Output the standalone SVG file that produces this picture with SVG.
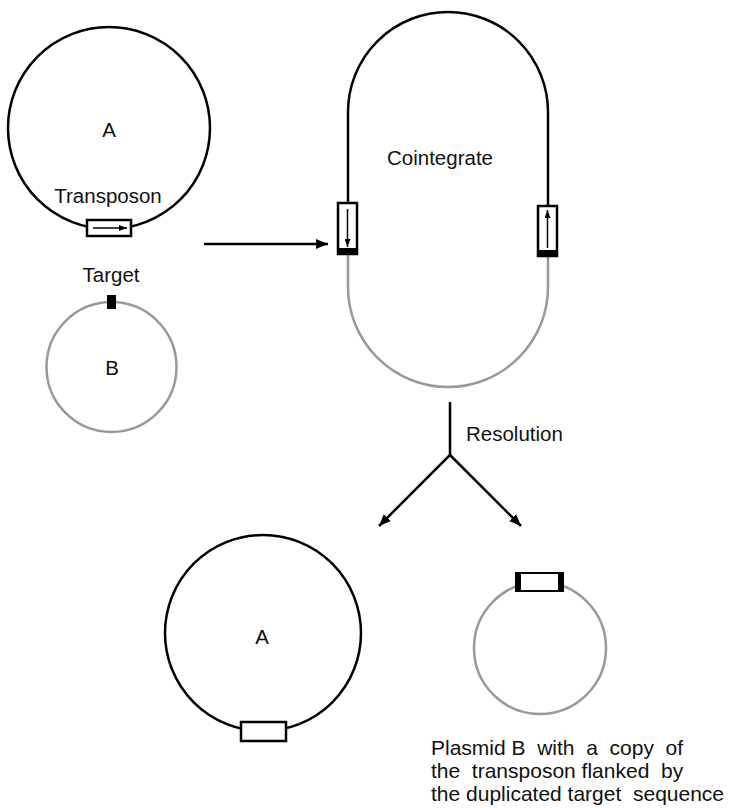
<svg xmlns="http://www.w3.org/2000/svg" width="732" height="808" viewBox="0 0 732 808">
  <style>
    .blk { fill: none; stroke: #000; stroke-width: 2.5; }
    .gry { fill: none; stroke: #999; stroke-width: 2.5; }
    .lbl { font-family: "Liberation Sans", Arial, sans-serif; font-size: 20.5px; fill: #111; }
    .note { font-family: "Liberation Sans", Arial, sans-serif; font-size: 21px; fill: #111; }
    .tn  { fill: #fff; stroke: #000; stroke-width: 2.5; }
    .thin { stroke: #000; stroke-width: 1.5; fill: none; }
  </style>
  <defs>
    <marker id="head" viewBox="0 0 12 10" refX="12" refY="5" markerWidth="12" markerHeight="10" markerUnits="userSpaceOnUse" orient="auto">
      <path d="M0,0 L12,5 L0,10 Z" fill="#000"/>
    </marker>
    <marker id="smallhead" viewBox="0 0 8 6" refX="8" refY="3" markerWidth="8" markerHeight="6" markerUnits="userSpaceOnUse" orient="auto">
      <path d="M0,0 L8,3 L0,6 Z" fill="#000"/>
    </marker>
  </defs>

  <!-- donor plasmid A carrying the transposon -->
  <g id="plasmidA">
    <circle class="blk" cx="109" cy="128" r="101"/>
    <text class="lbl" x="109" y="137" text-anchor="middle">A</text>
    <text class="lbl" x="108" y="203" text-anchor="middle">Transposon</text>
    <rect class="tn" x="87" y="220" width="44" height="16"/>
    <line class="thin" x1="93" y1="228" x2="127" y2="228" marker-end="url(#smallhead)"/>
  </g>

  <!-- recipient plasmid B with its target site -->
  <g id="plasmidB">
    <circle class="gry" cx="111.5" cy="367" r="65"/>
    <rect x="107" y="295" width="9" height="14" fill="#000"/>
    <text class="lbl" x="111" y="282" text-anchor="middle">Target</text>
    <text class="lbl" x="112" y="375" text-anchor="middle">B</text>
  </g>

  <!-- cointegrate: donor half black, recipient half grey -->
  <g id="cointegrate">
    <path class="blk" d="M348,255 L348,112 A100,100 0 0 1 548,112 L548,257"/>
    <path class="gry" d="M348,255 L348,287 A100,100 0 0 0 548,287 L548,257"/>
    <rect class="tn" x="338" y="203" width="19" height="51"/>
    <rect x="338" y="248" width="19" height="7" fill="#000"/>
    <line class="thin" x1="347.5" y1="209" x2="347.5" y2="247" marker-end="url(#smallhead)"/>
    <rect class="tn" x="538" y="206" width="19" height="50"/>
    <rect x="538" y="250" width="19" height="7" fill="#000"/>
    <line class="thin" x1="547.5" y1="248" x2="547.5" y2="210" marker-end="url(#smallhead)"/>
    <text class="lbl" x="440" y="165" text-anchor="middle">Cointegrate</text>
  </g>

  <!-- resolution products -->
  <g id="productA">
    <circle class="blk" cx="263" cy="633" r="98"/>
    <text class="lbl" x="262" y="644" text-anchor="middle">A</text>
    <rect class="tn" x="241" y="722" width="45" height="19"/>
  </g>

  <g id="productB">
    <circle class="gry" cx="540" cy="648" r="66"/>
    <rect x="515" y="572" width="49" height="20" fill="#000"/>
    <rect x="521" y="574" width="37" height="16" fill="#fff"/>
    <text class="note" xml:space="preserve">
      <tspan x="431" y="755">Plasmid B  with  a  copy  of</tspan>
      <tspan x="431" y="778">the  transposon flanked  by</tspan>
      <tspan x="431" y="801">the duplicated target  sequence</tspan>
    </text>
  </g>

  <!-- connectors -->
  <g id="connectors">
    <line class="blk" x1="204" y1="244" x2="328" y2="244" marker-end="url(#head)"/>
    <path class="blk" d="M450,402 L450,455 L379,526" marker-end="url(#head)"/>
    <path class="blk" d="M450,455 L521,526" marker-end="url(#head)"/>
    <text class="lbl" x="466" y="441">Resolution</text>
  </g>
</svg>
